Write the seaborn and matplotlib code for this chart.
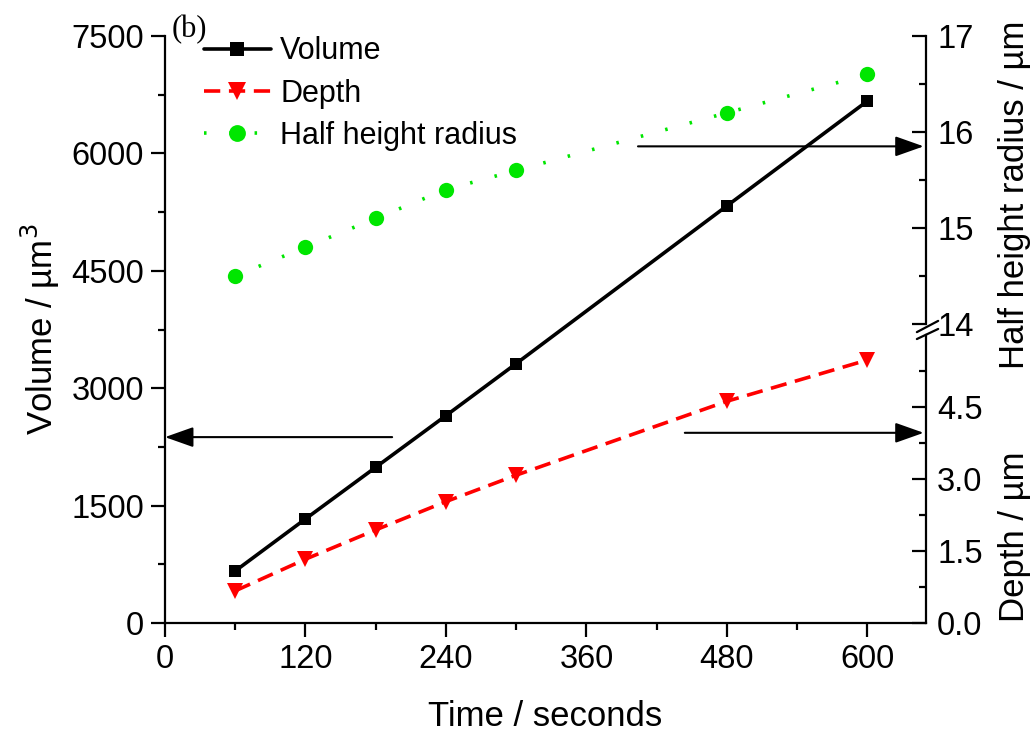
import numpy as np
import pandas as pd
import seaborn as sns
import matplotlib.pyplot as plt
from matplotlib.ticker import MultipleLocator, FixedLocator

sns.set_style("ticks")
plt.rcParams['font.family'] = ['Liberation Sans', 'DejaVu Sans']
for k in ['text.color', 'axes.labelcolor', 'xtick.color', 'ytick.color', 'axes.edgecolor']:
    plt.rcParams[k] = 'black'

# data
time_s = [60, 120, 180, 240, 300, 480, 600]
volume = [665, 1330, 1990, 2650, 3315, 5330, 6670]
depth = [0.67, 1.33, 1.94, 2.53, 3.08, 4.62, 5.48]
radius = [14.5, 14.8, 15.1, 15.4, 15.6, 16.2, 16.6]

df = pd.DataFrame({"time": time_s, "volume": volume, "depth": depth, "radius": radius})

green = '#00e600'
tfs = 23.5   # tick labels
lfs = 25     # axis labels

fig = plt.figure(figsize=(10.35, 7.33), dpi=100)
left, width = 165 / 1035, (926 - 165) / 1035
bot, height = 1 - 623 / 733, 587 / 733
half = 288 / 733
ax = fig.add_axes([left, bot, width, height])
ax_lo = fig.add_axes([left, bot, width, half], sharex=ax)
ax_hi = fig.add_axes([left, 1 - 324 / 733, width, half], sharex=ax)

# volume on main axis
sns.lineplot(data=df, x="time", y="volume", ax=ax, color='black', marker='s',
             markersize=9, linewidth=2.6, markeredgewidth=0, label='Volume', legend=False)
ax.set_xlim(0, 650)
ax.set_ylim(0, 7500)
ax.xaxis.set_major_locator(MultipleLocator(120))
ax.xaxis.set_minor_locator(MultipleLocator(60))
ax.yaxis.set_major_locator(MultipleLocator(1500))
ax.yaxis.set_minor_locator(MultipleLocator(750))
ax.spines['top'].set_visible(False)
ax.spines['right'].set_visible(False)
for s in ['left', 'bottom']:
    ax.spines[s].set_linewidth(1.6)
ax.tick_params(which='major', direction='out', length=10, width=1.6, labelsize=tfs, pad=5)
ax.tick_params(which='minor', direction='out', length=5, width=1.6)
ax.set_xlabel('Time / seconds', fontsize=lfs, labelpad=18)
ax.set_ylabel('Volume / µm$^3$', fontsize=lfs)
ax.yaxis.set_label_coords(-0.135, 0.5)

# depth, lower right axis
sns.lineplot(data=df, x="time", y="depth", ax=ax_lo, color='red', marker='v',
             markersize=12, linewidth=2.6, markeredgewidth=0, label='Depth', legend=False)
ax_lo.lines[0].set_dashes([4.5, 2.4])
ax_lo.set_ylim(0, 6)
ax_lo.yaxis.set_major_locator(FixedLocator([0.0, 1.5, 3.0, 4.5]))
ax_lo.yaxis.set_minor_locator(FixedLocator([0.75, 2.25, 3.75, 5.25]))
ax_lo.yaxis.set_major_formatter(plt.FuncFormatter(lambda v, p: f'{v:.1f}'))
ax_lo.set_ylabel('Depth / µm', fontsize=lfs)

# half height radius, upper right axis
sns.lineplot(data=df, x="time", y="radius", ax=ax_hi, color=green, marker='o',
             markersize=11, linewidth=2.6, markeredgewidth=0, label='Half height radius', legend=False)
ax_hi.lines[0].set_dashes([0.7, 6.3])
ax_hi.set_ylim(14, 17)
ax_hi.yaxis.set_major_locator(MultipleLocator(1))
ax_hi.yaxis.set_minor_locator(MultipleLocator(0.5))
ax_hi.set_ylabel('Half height radius / µm', fontsize=lfs)

for a in (ax_lo, ax_hi):
    a.patch.set_visible(False)
    for s in ['left', 'top', 'bottom']:
        a.spines[s].set_visible(False)
    a.spines['right'].set_visible(True)
    a.spines['right'].set_linewidth(1.6)
    a.yaxis.tick_right()
    a.yaxis.set_label_position('right')
    a.tick_params(axis='x', which='both', bottom=False, labelbottom=False)
    a.tick_params(axis='y', which='major', direction='in', length=10, width=1.6,
                  labelsize=tfs, pad=8)
    a.tick_params(axis='y', which='minor', direction='in', length=5, width=1.6)
    a.set_xlabel('')
ax_lo.yaxis.set_label_coords(1.094, 0.30)
ax_hi.yaxis.set_label_coords(1.094, 0.45)

# axis break marks
for y0, y1 in ((1.010, 1.049), (0.986, 1.021)):
    ax_lo.plot([0.988, 1.016], [y0, y1], transform=ax_lo.transAxes,
               color='black', lw=1.6, clip_on=False)

# arrows pointing to the relevant axis
arrow = dict(arrowstyle='-|>,head_length=1.75,head_width=0.62', color='black', lw=1.5,
             shrinkA=0, shrinkB=0)
ax.annotate('', xy=(0, 2375), xytext=(194, 2375), arrowprops=arrow, annotation_clip=False)
ax.annotate('', xy=(648, 6090), xytext=(404, 6090), arrowprops=arrow, annotation_clip=False)
ax.annotate('', xy=(648, 2430), xytext=(444, 2430), arrowprops=arrow, annotation_clip=False)

handles = ax.get_lines()[:1] + ax_lo.get_lines()[:1] + ax_hi.get_lines()[:1]
leg = ax.legend(handles, ['Volume', 'Depth', 'Half height radius'], loc='upper left',
                bbox_to_anchor=(0.035, 1.02), frameon=False, fontsize=22, handlelength=2.2,
                handletextpad=0.3, labelspacing=0.4, borderaxespad=0, markerscale=1.1)

fig.text(172 / 1035, 1 - 30 / 733, '(b)', fontsize=22, family='Liberation Serif',
         va='center', ha='left')

fig.savefig('out.png', dpi=100)
